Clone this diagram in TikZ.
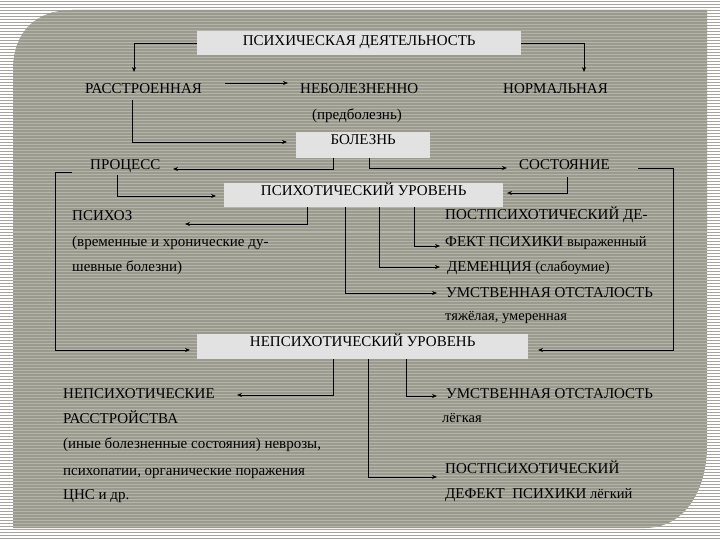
\documentclass[tikz,border=0pt]{standalone}
\usepackage{fontspec}
\setmainfont{Liberation Serif}
\usetikzlibrary{arrows.meta}
\definecolor{innerdark}{RGB}{154,154,142}
\definecolor{innerlight}{RGB}{180,180,170}
\definecolor{outerdark}{RGB}{165,165,158}
\definecolor{boxgray}{RGB}{226,226,226}
\newcommand{\bigtxt}{\fontsize{15}{18}\selectfont}
\newcommand{\smtxt}{\fontsize{14.5}{17}\selectfont}
\begin{document}
\begin{tikzpicture}[x=1pt,y=-1pt,
  lbox/.style={fill=boxgray, inner sep=0pt, font=\bigtxt, anchor=north west},
  lbl/.style={inner sep=0pt, anchor=base west, font=\bigtxt},
  arr/.style={-{Stealth[length=5pt,width=4pt]}, line width=0.8pt, draw=black}]
\useasboundingbox (0,0) rectangle (720,540);
% background
\fill[outerdark] (0,0) rectangle (720,540);
\foreach \yy in {0,3,...,540} \draw[white, line width=1.8pt] (0,\yy) -- (720,\yy);
\begin{scope}
\path[clip] (13,528) -- (13,70) .. controls (13,33) and (35,10) .. (72,10) -- (707,10) -- (707,445) .. controls (707,490) and (685,528) .. (645,528) -- cycle;
\fill[innerdark] (0,0) rectangle (720,540);
\foreach \yy in {1,4,...,540} \draw[innerlight, line width=1pt] (0,\yy) -- (720,\yy);
\end{scope}
% boxes
\node[lbox, minimum width=324pt, text height=14pt, text depth=10pt] (pd) at (197,31) {ПСИХИЧЕСКАЯ ДЕЯТЕЛЬНОСТЬ};
\node[lbox, minimum width=134pt, text height=12pt, text depth=14pt] (bol) at (296,132) {БОЛЕЗНЬ};
\node[lbox, minimum width=279pt, text height=12pt, text depth=12pt] (psy) at (224,183) {ПСИХОТИЧЕСКИЙ УРОВЕНЬ};
\node[lbox, minimum width=331pt, text height=12pt, text depth=13pt] (nep) at (197,334) {НЕПСИХОТИЧЕСКИЙ УРОВЕНЬ};
% labels
\node[lbl] (ras) at (85,94) {РАССТРОЕННАЯ};
\node[lbl] (neb) at (300,94) {НЕБОЛЕЗНЕННО};
\node[lbl] (norm) at (503,94) {НОРМАЛЬНАЯ};
\node[lbl] (pred) at (312,120) {(предболезнь)};
\node[lbl] (proc) at (90,170) {ПРОЦЕСС};
\node[lbl] (sost) at (519,170) {СОСТОЯНИЕ};
\node[lbl] (psyz) at (72,221) {ПСИХОЗ};
\node[lbl] (vrem) at (72,247) {(временные и хронические ду-};
\node[lbl] (shev) at (72,271) {шевные болезни)};
\node[lbl] (post1) at (445,220) {ПОСТПСИХОТИЧЕСКИЙ ДЕ-};
\node[lbl] (fekt) at (445,246) {ФЕКТ ПСИХИКИ {\smtxt выраженный}};
\node[lbl] (dem) at (447,271) {ДЕМЕНЦИЯ {\smtxt (слабоумие)}};
\node[lbl] (umst1) at (446,297) {УМСТВЕННАЯ ОТСТАЛОСТЬ};
\node[lbl, font=\smtxt] (tyazh) at (445,320) {тяжёлая, умеренная};
\node[lbl] (nepsy) at (63,398) {НЕПСИХОТИЧЕСКИЕ};
\node[lbl] (rasstr) at (63,423) {РАССТРОЙСТВА};
\node[lbl] (inye) at (63,448) {(иные болезненные состояния) неврозы,};
\node[lbl] (psihop) at (63,475) {психопатии, органические поражения};
\node[lbl] (cns) at (63,499) {ЦНС и др.};
\node[lbl] (umst2) at (446,398) {УМСТВЕННАЯ ОТСТАЛОСТЬ};
\node[lbl, font=\smtxt] (legk) at (442,422) {лёгкая};
\node[lbl] (post2) at (445,473) {ПОСТПСИХОТИЧЕСКИЙ};
\node[lbl] (def) at (445,498) {ДЕФЕКТ\ \ ПСИХИКИ {\smtxt лёгкий}};
% free ends / bends
\coordinate (e1) at (134,72);
\coordinate (e2) at (584,72);
\coordinate (s3) at (225,83);
\coordinate (e3) at (288,83);
\coordinate (s4) at (132,100);
\coordinate (e4) at (287,142);
\coordinate (e5) at (173,169);
\coordinate (e6) at (507,168);
\coordinate (s7) at (117,175);
\coordinate (e7) at (216,196);
\coordinate (s8) at (567,177);
\coordinate (e8) at (507,193);
\coordinate (s9) at (72,172);
\coordinate (b9) at (55,172);
\coordinate (e9) at (190,350);
\coordinate (s10) at (638,168);
\coordinate (b10) at (673,168);
\coordinate (e10) at (538,350);
\coordinate (e11) at (185,224);
\coordinate (e12) at (440,246);
\coordinate (e13) at (440,267);
\coordinate (e14) at (437,293);
\coordinate (e15) at (237,395);
\coordinate (e16) at (437,396);
\coordinate (e17) at (437,477);
% connectors
\draw[arr] (pd.west) -| (e1);
\draw[arr] (pd.east) -| (e2);
\draw[arr] (s3) -- (e3);
\draw[arr] (s4) |- (e4);
\draw[arr] (bol.south -| 333,0) |- (e5);
\draw[arr] (bol.south -| 369,0) |- (e6);
\draw[arr] (s7) |- (e7);
\draw[arr] (s8) |- (e8);
\draw[arr] (s9) -- (b9) |- (e9);
\draw[arr] (s10) -- (b10) |- (e10);
\draw[arr] (psy.south -| 307,0) |- (e11);
\draw[arr] (psy.south -| 414,0) |- (e12);
\draw[arr] (psy.south -| 379,0) |- (e13);
\draw[arr] (psy.south -| 345,0) |- (e14);
\draw[arr] (nep.south -| 333,0) |- (e15);
\draw[arr] (nep.south -| 406,0) |- (e16);
\draw[arr] (nep.south -| 368,0) |- (e17);
\end{tikzpicture}
\end{document}
